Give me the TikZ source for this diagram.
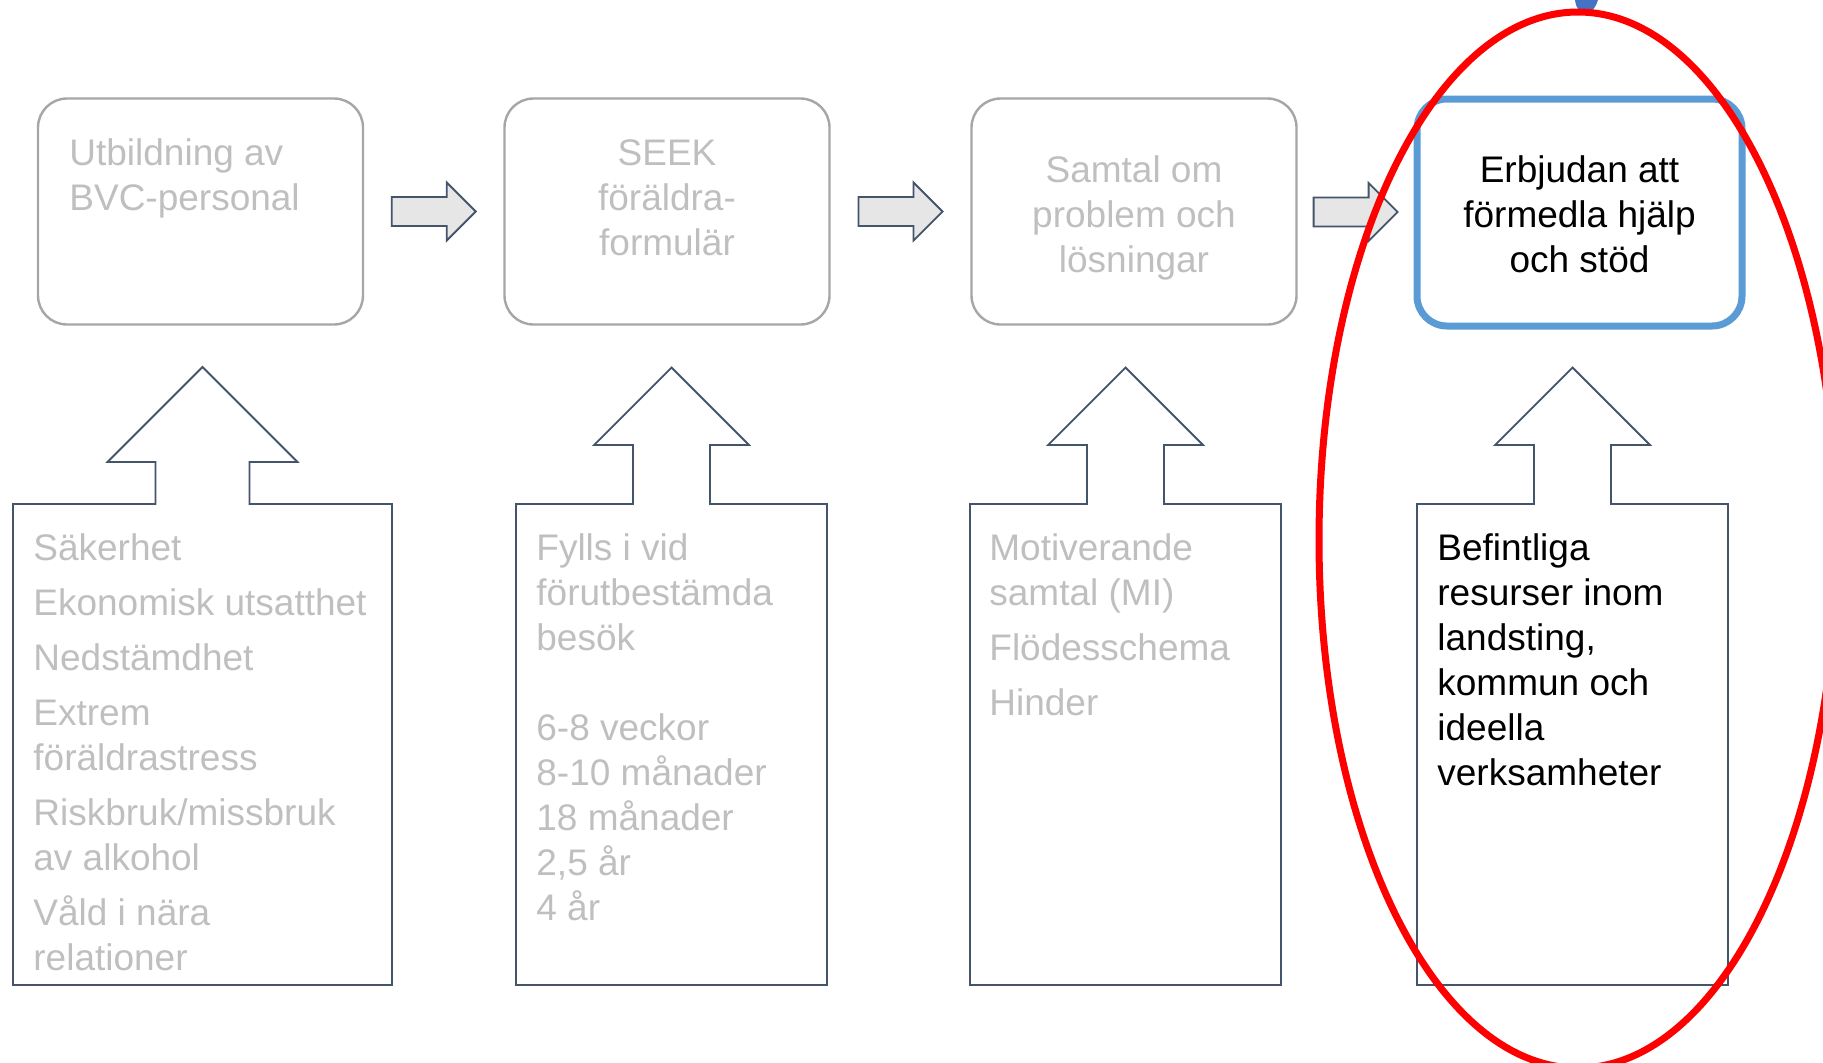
\documentclass[tikz,border=0pt]{standalone}
\usepackage{fontspec}
\setmainfont{Liberation Sans}
\usetikzlibrary{calc}

\definecolor{boxgray}{HTML}{A6A6A6}
\definecolor{textgray}{HTML}{BFBFBF}
\definecolor{slate}{HTML}{44546A}
\definecolor{arrowfill}{HTML}{E7E6E6}
\definecolor{accentblue}{HTML}{5B9BD5}
\definecolor{titleblue}{HTML}{4472C4}

% fixed height for the first line of every text block
\newcommand\firststrut{\rule{0pt}{20pt}}

\begin{document}
\begin{tikzpicture}[x=0.5pt,y=-0.5pt,
  every node/.style={inner sep=0pt, font=\fontsize{18.5pt}{22.5pt}\selectfont},
  stepbox/.style={draw=boxgray, line width=1.2pt, rounded corners=14.5pt,
    minimum width=162.5pt, minimum height=113pt},
  activebox/.style={draw=accentblue, line width=3.5pt, rounded corners=15pt,
    minimum width=162.5pt, minimum height=113.5pt},
  blockarrow/.style={draw=slate, fill=arrowfill, line width=0.9pt, line join=miter},
  callout/.style={draw=slate, line width=0.9pt, line join=miter},
  dimtext/.style={text=textgray},
  darktext/.style={text=black},
]
\useasboundingbox (0,0) rectangle (1823,1062);

% up-arrow callouts: left, right, centre, head half width, shaft half width, head base
\foreach \L/\R/\C/\hh/\sh/\hb in {13/392/202.5/95/47/462,
                                 516/827/671.5/77.5/38.5/445,
                                 970/1281/1125.5/77.5/38.5/445,
                                 1417/1728/1572.5/77.5/38.5/445}{
  \draw[callout] (\L,985) -- (\L,504) -- (\C-\sh,504) -- (\C-\sh,\hb)
    -- (\C-\hh,\hb) -- (\C,\hb-\hh) -- (\C+\hh,\hb) -- (\C+\sh,\hb)
    -- (\C+\sh,504) -- (\R,504) -- (\R,985) -- cycle;
}

% process steps
\node[stepbox] (b1) at (200.5,211.5) {};
\node[stepbox] (b2) at (667,211.5) {};
\node[stepbox] (b3) at (1134,211.5) {};
\node[activebox] (b4) at (1579.5,212.5) {};

\node[dimtext, align=left, anchor=north west] (t1) at (69,125)
  {\firststrut Utbildning av\\BVC-personal};
\node[dimtext, align=center, anchor=north] (t2) at (667,125)
  {\firststrut SEEK\\föräldra-\\formulär};
\node[dimtext, align=center, anchor=north] (t3) at (1134,142)
  {\firststrut Samtal om\\problem och\\lösningar};
\node[darktext, align=center, anchor=north] (t4) at (1579.5,142)
  {\firststrut Erbjudan att\\förmedla hjälp\\och stöd};

% block arrows between the steps
\foreach \l/\r/\n in {b1/b2/1, b2/b3/2, b3/b4/3}{
  \coordinate (m\n) at ($(\l.east)!0.5!(\r.west)$);
  \draw[blockarrow] (m\n) ++(-42,-14.5) -- ++(55,0) -- ++(0,-14.5)
    -- ++(29,29) -- ++(-29,29) -- ++(0,-14.5) -- ++(-55,0) -- cycle;
}

% contents of the callouts
\node[dimtext, align=left, anchor=north west] (c1) at (33,520)
  {\firststrut Säkerhet\\[5pt]%
Ekonomisk utsatthet\\[5pt]%
Nedstämdhet\\[5pt]%
Extrem\\%
föräldrastress\\[5pt]%
Riskbruk/missbruk\\%
av alkohol\\[5pt]%
Våld i nära\\%
relationer};
\node[dimtext, align=left, anchor=north west] (c2) at (536,520)
  {\firststrut Fylls i vid\\%
förutbestämda\\%
besök\\[22.5pt]%
6-8 veckor\\%
8-10 månader\\%
18 månader\\%
2,5 år\\%
4 år};
\node[dimtext, align=left, anchor=north west] (c3) at (989,520)
  {\firststrut Motiverande\\%
samtal (MI)\\[5pt]%
Flödesschema\\[5pt]%
Hinder};
\node[darktext, align=left, anchor=north west] (c4) at (1437,520)
  {\firststrut Befintliga\\%
resurser inom\\%
landsting,\\%
kommun och\\%
ideella\\%
verksamheter};

% tail of a heading letter at the top edge
\fill[titleblue] (1575,0) .. controls (1576,9) and (1581,14) .. (1587,13)
  .. controls (1593,12) and (1596,6) .. (1598,0) -- cycle;

% highlight ring
\draw[red, line width=3.5pt] (1578,540) ellipse [x radius=129.5pt, y radius=264pt];
\end{tikzpicture}
\end{document}
